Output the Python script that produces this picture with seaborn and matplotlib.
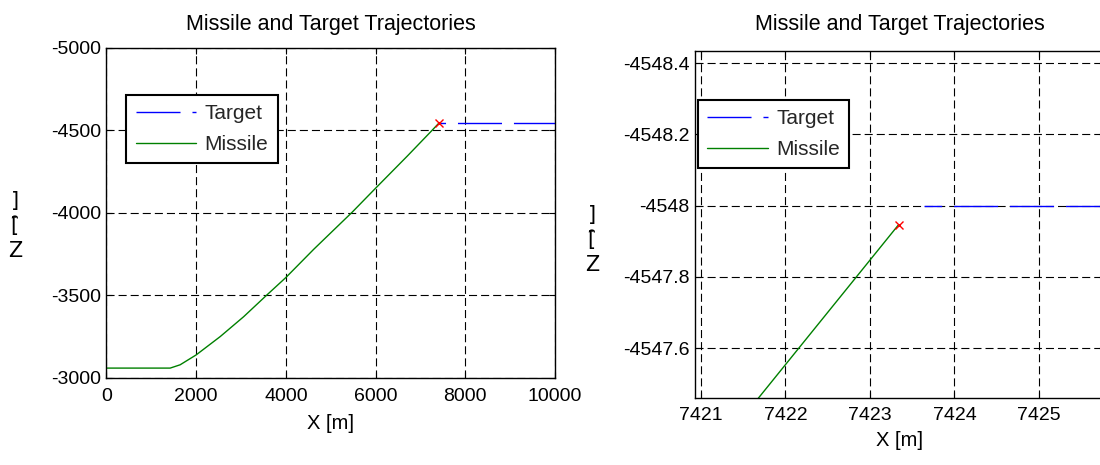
import matplotlib
matplotlib.use("Agg")
import matplotlib.pyplot as plt
import seaborn as sns
import numpy as np

# ---------------- data ----------------
missile_x = [0, 1420, 1642, 2000, 2536, 3057, 3564, 4004, 4621, 5479, 6000,
             6708, 7229, 7421.0, 7421.68, 7423.34]
missile_z = [-3060, -3060, -3080, -3140, -3251, -3371, -3500, -3610, -3780,
             -4005, -4150, -4345, -4492, -4547.26, -4547.46, -4547.947]
target_x = [7423.64, 10000]
target_z = [-4548.0, -4548.0]
intercept_x = [7423.34]
intercept_z = [-4547.947]

left_xticks = [0, 2000, 4000, 6000, 8000, 10000]
left_xticklabels = ["0", "2000", "4000", "6000", "8000", "10000"]
left_yticks = [-5000, -4500, -4000, -3500, -3000]
left_yticklabels = ["-5000", "-4500", "-4000", "-3500", "-3000"]

right_xticks = [7421, 7422, 7423, 7424, 7425]
right_xticklabels = ["7421", "7422", "7423", "7424", "7425"]
right_yticks = [-4548.4, -4548.2, -4548.0, -4547.8, -4547.6]
right_yticklabels = ["-4548.4", "-4548.2", "-4548", "-4547.8", "-4547.6"]

title = "Missile and Target Trajectories"
xlabel = "X [m]"
ylabel_stacked = "]\n[\u0311\nZ"
labels = ["Target", "Missile"]

# ---------------- style ----------------
sns.set_theme(style="white")
plt.rcParams["font.family"] = ["Liberation Sans Narrow", "Liberation Sans", "DejaVu Sans"]
plt.rcParams["axes.unicode_minus"] = False
plt.rcParams["lines.scale_dashes"] = False

TICK_FS = 14
TITLE_FS = 15.5
LEG_FS = 15
XL_FS = 14.5

fig = plt.figure(figsize=(11, 4.65), dpi=100)
axL = fig.add_axes([0.0968, 0.1871, 0.4077, 0.7097])
axR = fig.add_axes([0.6318, 0.1447, 0.3727, 0.7462])

grid_ls = (0, (5.8, 2.9))
target_dash = (31.7, 8.6)


def draw(ax, t_offset):
    sns.lineplot(x=target_x, y=target_z, ax=ax, sort=False, estimator=None,
                 color="#0000ff", lw=1.0, linestyle=(t_offset, target_dash),
                 label=labels[0])
    sns.lineplot(x=missile_x, y=missile_z, ax=ax, sort=False, estimator=None,
                 color="#008000", lw=1.0, label=labels[1])
    ax.plot(intercept_x, intercept_z, marker="x", color="red", ms=6, mew=1.0,
            linestyle="none")
    for s in ax.spines.values():
        s.set_visible(True)
        s.set_color("black")
        s.set_linewidth(1.0)
    ax.grid(True, color="black", linestyle=grid_ls, linewidth=0.8)
    ax.tick_params(direction="in", length=4, width=0.8, top=True, right=True,
                   bottom=True, left=True, labelsize=TICK_FS, colors="black")
    ax.tick_params(axis="x", pad=7)
    ax.tick_params(axis="y", pad=4)
    ax.set_ylabel("")


draw(axL, 27)
axL.set_xlim(0, 10000)
axL.set_ylim(-3000, -5000)
axL.set_xticks(left_xticks)
axL.set_xticklabels(left_xticklabels)
axL.set_yticks(left_yticks)
axL.set_yticklabels(left_yticklabels)
axL.set_title(title, fontsize=TITLE_FS, pad=13, color="black")
axL.set_xlabel(xlabel, fontsize=XL_FS, labelpad=7, color="black")

draw(axR, 19)
axR.set_xlim(7420.929, 7425.781)
axR.set_ylim(-4547.461, -4548.435)
axR.set_xticks(right_xticks)
axR.set_xticklabels(right_xticklabels)
axR.set_yticks(right_yticks)
axR.set_yticklabels(right_yticklabels)
axR.set_title(title, fontsize=TITLE_FS, pad=15, color="black")
axR.set_xlabel(xlabel, fontsize=XL_FS, labelpad=5, color="black")
axR.spines["right"].set_visible(False)

for ax, anchor in ((axL, (0.0446, 0.8576)), (axR, (0.0073, 0.858))):
    h, l = ax.get_legend_handles_labels()
    leg = ax.legend(h, l, loc="upper left", bbox_to_anchor=anchor,
                    borderaxespad=0, fontsize=LEG_FS, handlelength=2.9,
                    handletextpad=0.4, labelspacing=0.55, borderpad=0.45,
                    fancybox=False, framealpha=1, edgecolor="black")
    leg.get_frame().set_linewidth(1.5)
    leg.get_lines()[0].set_linestyle((0, target_dash))

# y labels (stacked characters, as in the reference)
for xc, yc in ((15, 226), (592, 240)):
    fig.text(xc / 1100, 1 - yc / 465, ylabel_stacked, ha="center", va="center",
             fontsize=15, linespacing=1.3, family="DejaVu Sans", color="black")

fig.savefig("out.png", dpi=100, facecolor="white")
